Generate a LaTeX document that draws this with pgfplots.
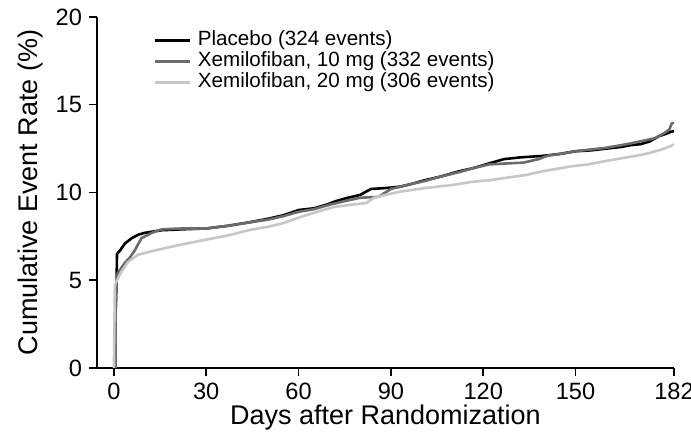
\documentclass[border=0pt]{standalone}
\usepackage{pgfplots}
\pgfplotsset{compat=1.18}
\usepackage{fontspec}
\setmainfont{Liberation Sans}
\definecolor{dgray}{gray}{0.42}
\definecolor{lgray}{gray}{0.78}
\begin{document}
\begin{tikzpicture}
\useasboundingbox (-48.5pt,-37pt) rectangle (297pt,184pt);
\begin{axis}[
  at={(0,0)}, anchor=south west,
  scale only axis,
  width=288.5pt, height=175.5pt,
  xmin=-5.5, xmax=182, ymin=0, ymax=20,
  axis x line*=bottom, axis y line*=left,
  axis line style={line width=0.75pt, -},
  xtick={0,30,60,90,120,150,182},
  ytick={0,5,10,15,20},
  tick align=outside,
  major tick length=4pt,
  tick style={line width=0.75pt, black},
  /pgf/number format/assume math mode=true,
  ticklabel style={font=\fontsize{11.8}{13}\selectfont},
  xlabel={Days after Randomization},
  ylabel={Cumulative Event Rate (\%)},
  label style={font=\fontsize{13.5}{15}\selectfont},
  xlabel style={at={(axis description cs:0.5,-0.14)}, anchor=center},
  ylabel style={at={(axis description cs:-0.116,0.5)}, anchor=center},
  legend style={draw=none, fill=none, at={(rel axis cs:0.088,0.975)}, anchor=north west,
    font=\fontsize{10.3}{11}\selectfont, row sep=0pt, column sep=2.5pt, legend cell align=left,
    nodes={inner sep=1pt, text height=6.6pt, text depth=1.9pt}},
  every axis plot/.append style={line width=1.3pt, line join=round},
]
\addplot[black] coordinates {
(0,0) (0.5,0) (0.5,3.0) (0.7,4.0) (0.9,5.3) (1.0,6.5) (2,6.7) (3.6,7.1) (5.8,7.4) (8,7.6) (10,7.7)
(15.5,7.85) (22,7.9) (30,7.95) (37,8.1) (44,8.3) (50,8.5) (55,8.7) (60,9.0) (65,9.1) (69,9.3)
(72,9.5) (76,9.7) (80,9.86) (83.5,10.2) (88,10.25) (93,10.33) (97,10.5) (101,10.7) (106,10.9)
(112,11.2) (117,11.4) (122,11.66) (126.7,11.9) (132,12.0) (139,12.08) (145,12.2) (150,12.35)
(155,12.4) (160,12.5) (165,12.6) (168,12.7) (171,12.75) (174,12.9) (177,13.2) (179.5,13.35)
(181,13.46) (182,13.5)
};
\addlegendentry{Placebo (324 events)}
\addplot[dgray] coordinates {
(0,0) (0.5,0) (0.5,2.8) (0.7,4.5) (0.9,5.3) (2,5.6) (3.6,6.0) (5.2,6.3) (6.8,6.7) (8,7.1) (9,7.4)
(12.3,7.7) (15.5,7.9) (22,7.95) (30,7.95) (37,8.1) (44,8.3) (50,8.45) (55,8.65) (60,8.9)
(65,9.05) (70,9.3) (76,9.55) (80,9.7) (86,9.75) (90,10.2) (93,10.33) (97,10.5) (101,10.65)
(106,10.9) (112,11.15) (117,11.4) (122,11.6) (127,11.65) (133,11.7) (138,11.9) (141,12.1)
(145,12.2) (150,12.35) (155,12.45) (160,12.55) (165,12.7) (168,12.8) (172,12.95) (176,13.1)
(179,13.4) (180.5,13.6) (181.3,13.95) (182,13.95)
};
\addlegendentry{Xemilofiban, 10 mg (332 events)}
\addplot[lgray] coordinates {
(0,0) (0.3,4.7) (1,5.0) (2.5,5.5) (4.6,6.05) (7.8,6.45) (13.3,6.7) (21,7.0) (29.6,7.3)
(37,7.55) (44,7.86) (50,8.05) (55,8.25) (60.6,8.6) (66,8.9) (71.4,9.17) (77,9.3) (82,9.4)
(84.5,9.7) (88,9.85) (93,10.05) (97,10.15) (101,10.25) (106,10.35) (111,10.45) (116,10.6)
(122,10.7) (128,10.85) (134,11.0) (139,11.2) (144,11.35) (149,11.5) (154,11.6) (160,11.8)
(165,11.95) (170,12.1) (174,12.25) (178,12.45) (181,12.65) (182,12.75)
};
\addlegendentry{Xemilofiban, 20 mg (306 events)}
\end{axis}
\end{tikzpicture}
\end{document}
